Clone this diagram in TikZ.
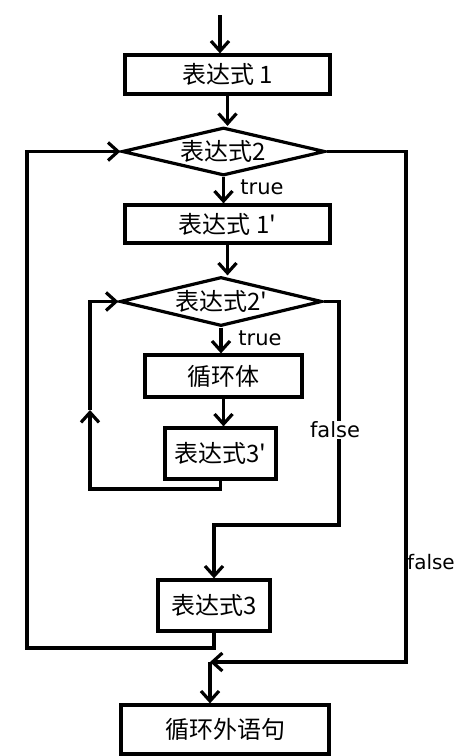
\documentclass[tikz,border=0pt]{standalone}
\usepackage{fontspec}
\newfontfamily\cjk{Noto Sans CJK SC}
\newfontfamily\latinsans{DejaVu Sans}
\usetikzlibrary{shapes.geometric,arrows.meta}

\begin{document}
\begin{tikzpicture}
[every node/.style={inner sep=0pt},
 box/.style={rectangle, draw=black, line width=3.2pt, fill=white, font=\cjk\fontsize{24}{26}\selectfont},
 test/.style={diamond, aspect=4, draw=black, line width=3.2pt, fill=white, font=\cjk\fontsize{24}{26}\selectfont},
 flow/.style={line width=3.2pt, color=black, -{Straight Barb[length=10pt,width=18pt]}},
 tag/.style={font=\latinsans\fontsize{21}{23}\selectfont}]
\useasboundingbox (0pt,0pt) rectangle (457pt,-756pt);
% boxes and tests
\coordinate (start) at (220pt, -15pt);
\node (e1) [box, minimum width=205pt, minimum height=39pt] at (227.5pt, -74.5pt) {表达式 1};
\node (t2) [test, minimum width=203pt, minimum height=48pt] at (223.5pt, -151.5pt) {表达式2};
\node (e1p) [box, minimum width=205pt, minimum height=38pt] at (227.5pt, -224pt) {表达式 1'};
\node (t2p) [test, minimum width=202pt, minimum height=49pt] at (221pt, -301.5pt) {表达式2'};
\node (body) [box, minimum width=157pt, minimum height=42pt] at (223.5pt, -376pt) {循环体};
\node (e3p) [box, minimum width=111pt, minimum height=51pt] at (220.5pt, -453.5pt) {表达式3'};
\node (e3) [box, minimum width=112pt, minimum height=51pt] at (214pt, -605.5pt) {表达式3};
\node (after) [box, minimum width=208pt, minimum height=49pt] at (225pt, -729.5pt) {循环外语句};
% turning points
\coordinate (inleft) at (90pt, -489pt);
\coordinate (inup) at (90pt, -410pt);
\coordinate (inright) at (339pt, -525pt);
\coordinate (outleft) at (27pt, -648pt);
\coordinate (outright) at (406pt, -662pt);
\coordinate (join) at (210pt, -662pt);
% main line
\draw [flow] (start) to (start |- e1.north);
\draw [flow] (e1.south) to (e1.south |- t2.north);
\draw [flow] (t2.south) to (t2.south |- e1p.north);
\draw [flow] (e1p.south) to (e1p.south |- t2p.north);
\draw [flow] (t2p.south) to (t2p.south |- body.north);
\draw [flow] (body.south) to (body.south |- e3p.north);
% inner loop
\draw [flow] (e3p.south) |- (inleft) -- (inup);
\draw [flow] (inup) |- (t2p.west);
\draw [flow] (t2p.east) -| (inright) -| (e3.north);
% outer loop
\draw [flow] (e3.south) |- (outleft) |- (t2.west);
\draw [flow] (t2.east) -| (outright) -- (join);
\draw [flow] (join) to (join |- after.north);
% labels
\node at (262pt, -187pt) [tag] {true};
\node at (260pt, -338pt) [tag] {true};
\node at (335pt, -430pt) [tag, fill=white, inner sep=1pt] {false};
\node at (431pt, -562pt) [tag, font=\latinsans\fontsize{20}{22}\selectfont] {false};
\end{tikzpicture}
\end{document}
